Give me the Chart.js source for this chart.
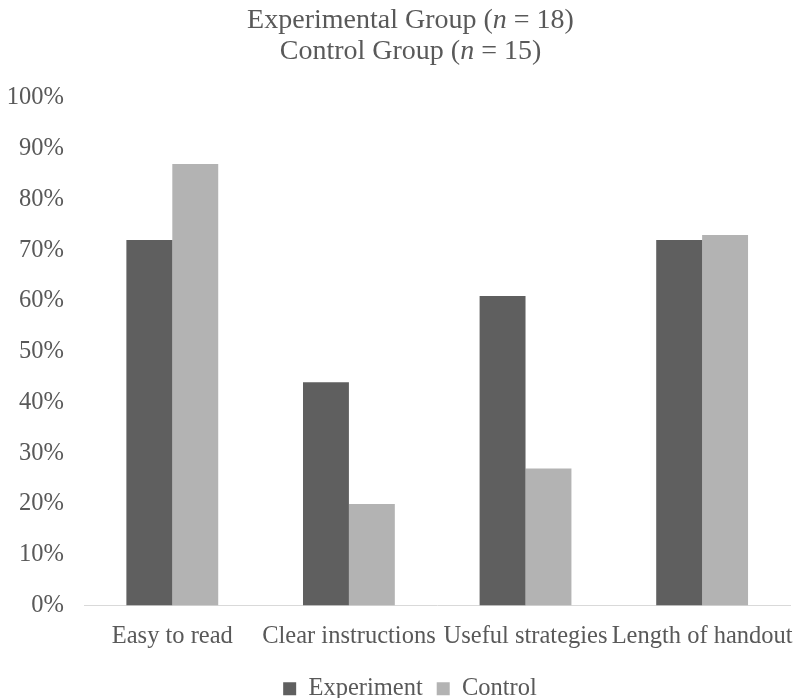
<!DOCTYPE html>
<html>
<head>
<meta charset="utf-8">
<script src="https://cdn.jsdelivr.net/npm/chart.js@4.4.1/dist/chart.umd.min.js"></script>
<style>
  html, body { margin: 0; padding: 0; background: #ffffff; }
  #wrap { width: 801px; height: 698px; position: relative; }
</style>
</head>
<body>
<div id="wrap"><canvas id="chart" width="801" height="698"></canvas></div>
<script>
// Survey responses (% agreeing) by handout aspect
const categories = ['Easy to read', 'Clear instructions', 'Useful strategies', 'Length of handout'];
const experimentValues = [72, 44, 61, 72];
const controlValues = [87, 20, 27, 73];
const seriesNames = ['Experiment', 'Control'];
const titleLines = [
  ['Experimental Group (', 'n', ' = 18)'],
  ['Control Group (', 'n', ' = 15)']
];

const FONT = '"Liberation Serif", "Times New Roman", serif';
const TEXT = '#595959';
const SIZE = 24.5;

// Two-line title with an italic "n", drawn centred over the canvas
const titlePlugin = {
  id: 'groupTitle',
  afterDraw(chart) {
    const ctx = chart.ctx;
    const cx = chart.width / 2 + 10;
    const baselines = [28, 59];
    ctx.save();
    ctx.fillStyle = TEXT;
    ctx.textBaseline = 'alphabetic';
    ctx.textAlign = 'left';
    titleLines.forEach((parts, i) => {
      const fonts = ['28px ' + FONT, 'italic 28px ' + FONT, '28px ' + FONT];
      let total = 0;
      const widths = parts.map((p, j) => { ctx.font = fonts[j]; const w = ctx.measureText(p).width; total += w; return w; });
      let x = cx - total / 2;
      parts.forEach((p, j) => { ctx.font = fonts[j]; ctx.fillText(p, x, baselines[i]); x += widths[j]; });
    });
    ctx.restore();
  }
};

// Centre the legend under the title rather than the full canvas
const legendShift = {
  id: 'legendShift',
  afterLayout(chart) {
    const lg = chart.legend;
    if (lg) { lg.left += 11; lg.right += 11; }
  }
};

new Chart(document.getElementById('chart'), {
  type: 'bar',
  data: {
    labels: categories,
    datasets: [
      { label: seriesNames[0], data: experimentValues, backgroundColor: '#5f5f5f', borderWidth: 0 },
      { label: seriesNames[1], data: controlValues, backgroundColor: '#b3b3b3', borderWidth: 0 }
    ]
  },
  options: {
    responsive: false,
    animation: false,
    layout: { padding: { top: 98, right: 3, left: 0, bottom: -13 } },
    datasets: { bar: { categoryPercentage: 0.52, barPercentage: 1.0 } },
    plugins: {
      title: { display: false },
      tooltip: { enabled: false },
      legend: {
        position: 'bottom',
        labels: {
          color: TEXT,
          font: { family: FONT, size: SIZE },
          boxWidth: 13,
          boxHeight: 13,
          padding: 14
        }
      }
    },
    scales: {
      x: {
        grid: { display: false },
        border: { display: true, color: '#d9d9d9', width: 1 },
        ticks: { color: TEXT, font: { family: FONT, size: SIZE }, padding: 8, maxRotation: 0, autoSkip: false },
        afterFit(scale) { scale.height = 57; }
      },
      y: {
        min: 0,
        max: 100,
        grid: { display: false },
        border: { display: false },
        ticks: {
          stepSize: 10,
          color: TEXT,
          font: { family: FONT, size: SIZE },
          padding: 12,
          callback: v => v + '%'
        },
        afterFit(scale) { scale.width = 84; }
      }
    }
  },
  plugins: [titlePlugin, legendShift]
});
</script>
</body>
</html>
